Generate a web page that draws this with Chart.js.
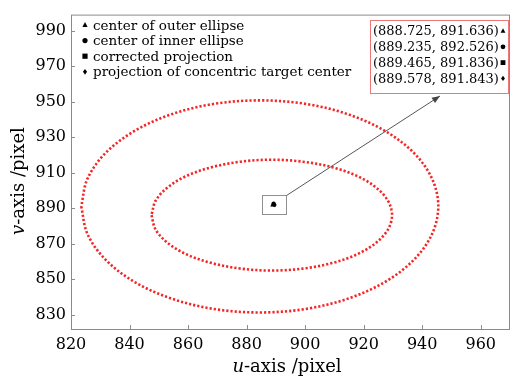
<!DOCTYPE html>
<html>
<head>
<meta charset="utf-8">
<script src="https://cdn.jsdelivr.net/npm/chart.js@4/dist/chart.umd.min.js"></script>
<style>
  html, body { margin: 0; padding: 0; background: #fff; }
  #wrap { width: 514px; height: 377px; }
</style>
</head>
<body>
<div id="wrap"><canvas id="c" width="514" height="377"></canvas></div>
<script>
// Axis ticks
const xTicks = [820, 840, 860, 880, 900, 920, 940, 960];
const yTicks = [830, 850, 870, 890, 910, 930, 950, 970, 990];

// Fitted outer ellipse, sampled around its contour (pixels in image space)
const outerU = [823.5, 825.6, 831.7, 841.4, 854.0, 868.7, 884.5, 900.3, 915.0, 927.6, 937.3, 943.4,
                945.5, 943.4, 937.3, 927.6, 915.0, 900.3, 884.5, 868.7, 854.0, 841.4, 831.7, 825.6, 823.5];
const outerV = [891.0, 875.6, 861.2, 848.8, 839.3, 833.3, 831.3, 833.3, 839.3, 848.8, 861.2, 875.6,
                891.0, 906.5, 920.9, 933.2, 942.7, 948.7, 950.7, 948.7, 942.7, 933.2, 920.9, 906.5, 891.0];

// Fitted inner ellipse
const innerU = [847.5, 848.9, 853.0, 859.5, 868.1, 878.0, 888.6, 899.2, 909.2, 917.7, 924.2, 928.3,
                929.7, 928.3, 924.2, 917.7, 909.2, 899.2, 888.6, 878.0, 868.1, 859.5, 853.0, 848.9, 847.5];
const innerV = [886.1, 878.0, 870.5, 864.0, 859.1, 856.0, 854.9, 856.0, 859.1, 864.0, 870.5, 878.0,
                886.1, 894.2, 901.7, 908.2, 913.1, 916.2, 917.3, 916.2, 913.1, 908.2, 901.7, 894.2, 886.1];

// Estimated centres
const centerNames = ['center of outer ellipse', 'center of inner ellipse',
                     'corrected projection', 'projection of concentric target center'];
const centerU = [888.725, 889.235, 889.465, 889.578];
const centerV = [891.636, 892.526, 891.836, 891.843];
const centerShapes = ['triangle', 'circle', 'rect', 'rectRot'];

const RED = 'rgb(244, 38, 38)';
const SERIF = '"DejaVu Serif", serif';

const toPoints = (us, vs) => us.map((u, i) => ({ x: u, y: vs[i] }));

function drawMarker(ctx, shape, x, y, r) {
  ctx.beginPath();
  if (shape === 'triangle') {
    ctx.moveTo(x, y - r * 1.15);
    ctx.lineTo(x + r, y + r * 0.75);
    ctx.lineTo(x - r, y + r * 0.75);
    ctx.closePath();
  } else if (shape === 'circle') {
    ctx.arc(x, y, r, 0, Math.PI * 2);
  } else if (shape === 'rect') {
    ctx.rect(x - r, y - r, r * 2, r * 2);
  } else {
    ctx.moveTo(x, y - r * 1.1);
    ctx.lineTo(x + r * 0.8, y);
    ctx.lineTo(x, y + r * 1.1);
    ctx.lineTo(x - r * 0.8, y);
    ctx.closePath();
  }
  ctx.fill();
}

const decor = {
  id: 'decor',
  afterDraw(chart) {
    const { ctx, chartArea: a, scales: { x, y } } = chart;
    ctx.save();

    // Axes frame and inward tick marks
    ctx.strokeStyle = '#8a8a8a';
    ctx.lineWidth = 1;
    ctx.strokeRect(a.left + 0.5, a.top + 0.5, a.right - a.left - 1, a.bottom - a.top);
    ctx.beginPath();
    xTicks.forEach(v => {
      const px = Math.round(x.getPixelForValue(v)) + 0.5;
      ctx.moveTo(px, a.bottom);
      ctx.lineTo(px, a.bottom - 4);
    });
    yTicks.forEach(v => {
      const py = Math.round(y.getPixelForValue(v)) + 0.5;
      ctx.moveTo(a.left, py);
      ctx.lineTo(a.left + 4, py);
    });
    ctx.stroke();

    // Axis titles with italic variable names
    ctx.fillStyle = '#000';
    ctx.textBaseline = 'alphabetic';
    const drawTitle = (sym, rest, cx, cy) => {
      ctx.font = 'italic 18px ' + SERIF;
      const w1 = ctx.measureText(sym).width;
      ctx.font = '18px ' + SERIF;
      const w2 = ctx.measureText(rest).width;
      const x0 = cx - (w1 + w2) / 2;
      ctx.font = 'italic 18px ' + SERIF;
      ctx.textAlign = 'left';
      ctx.fillText(sym, x0, cy);
      ctx.font = '18px ' + SERIF;
      ctx.fillText(rest, x0 + w1, cy);
    };
    drawTitle('u', '-axis /pixel', 287, 372);
    ctx.save();
    ctx.translate(24, 181);
    ctx.rotate(-Math.PI / 2);
    drawTitle('v', '-axis /pixel', 0, 0);
    ctx.restore();

    // Legend inside the plot
    ctx.font = '13.5px ' + SERIF;
    ctx.textBaseline = 'middle';
    ctx.textAlign = 'left';
    centerNames.forEach((name, i) => {
      const ly = 25 + i * 15.6;
      ctx.fillStyle = '#000';
      drawMarker(ctx, centerShapes[i], 85, ly, 2.6);
      ctx.fillText(name, 93, ly + 1);
    });

    // Zoom box round the centres and the leader arrow
    const mx = centerU.reduce((s, v) => s + x.getPixelForValue(v), 0) / centerU.length;
    const my = centerV.reduce((s, v) => s + y.getPixelForValue(v), 0) / centerV.length;
    const bx0 = Math.round(mx - 12) + 0.5, by0 = Math.round(my - 9.5) + 0.5;
    ctx.strokeStyle = '#8f8f8f';
    ctx.strokeRect(bx0, by0, 24, 19);

    const sx = bx0 + 24, sy = by0, tx = 440, ty = 96;
    ctx.strokeStyle = '#555';
    ctx.beginPath();
    ctx.moveTo(sx, sy);
    ctx.lineTo(tx, ty);
    ctx.stroke();
    const ang = Math.atan2(ty - sy, tx - sx);
    ctx.fillStyle = '#444';
    ctx.beginPath();
    ctx.moveTo(tx, ty);
    ctx.lineTo(tx - 8 * Math.cos(ang) + 3.2 * Math.sin(ang), ty - 8 * Math.sin(ang) - 3.2 * Math.cos(ang));
    ctx.lineTo(tx - 8 * Math.cos(ang) - 3.2 * Math.sin(ang), ty - 8 * Math.sin(ang) + 3.2 * Math.cos(ang));
    ctx.closePath();
    ctx.fill();

    // Coordinate call-out
    ctx.fillStyle = '#fff';
    ctx.fillRect(370.5, 20.5, 138, 73);
    ctx.strokeStyle = 'rgb(238, 120, 120)';
    ctx.strokeRect(370.5, 20.5, 138, 73);
    ctx.font = '13px ' + SERIF;
    ctx.fillStyle = '#000';
    centerU.forEach((u, i) => {
      const ly = 31 + i * 15.8;
      ctx.fillText('(' + u.toFixed(3) + ', ' + centerV[i].toFixed(3) + ')', 373, ly + 1);
      drawMarker(ctx, centerShapes[i], 503, ly, 2.4);
    });

    ctx.restore();
  }
};

const ellipseStyle = {
  showLine: true,
  pointRadius: 0,
  borderColor: RED,
  borderWidth: 2.6,
  borderDash: [2.2, 2.0],
  borderCapStyle: 'butt',
  tension: 0.34,
  fill: false
};

const datasets = [
  Object.assign({ label: 'outer ellipse', data: toPoints(outerU, outerV) }, ellipseStyle),
  Object.assign({ label: 'inner ellipse', data: toPoints(innerU, innerV) }, ellipseStyle)
];
centerU.forEach((u, i) => {
  datasets.push({
    label: centerNames[i],
    data: [{ x: u, y: centerV[i] }],
    pointStyle: centerShapes[i],
    pointRadius: 2.2,
    backgroundColor: '#000',
    borderColor: '#000',
    borderWidth: 0
  });
});

new Chart(document.getElementById('c'), {
  type: 'scatter',
  data: { datasets },
  options: {
    responsive: false,
    devicePixelRatio: 1,
    animation: false,
    events: [],
    layout: { padding: { top: 11, right: 1, left: 0, bottom: 0 } },
    plugins: { legend: { display: false }, tooltip: { enabled: false } },
    scales: {
      x: {
        type: 'linear',
        min: 820, max: 970,
        afterBuildTicks: s => { s.ticks = xTicks.map(v => ({ value: v })); },
        afterFit: s => { s.height = 48; },
        grid: { display: false, drawTicks: false },
        border: { display: false },
        ticks: { color: '#000', padding: 6, maxRotation: 0, font: { family: SERIF, size: 16 } }
      },
      y: {
        type: 'linear',
        min: 822, max: 999,
        afterBuildTicks: s => { s.ticks = yTicks.map(v => ({ value: v })); },
        afterFit: s => { s.width = 71; },
        grid: { display: false, drawTicks: false },
        border: { display: false },
        ticks: { color: '#000', padding: 5, font: { family: SERIF, size: 16 } }
      }
    }
  },
  plugins: [decor]
});
</script>
</body>
</html>
